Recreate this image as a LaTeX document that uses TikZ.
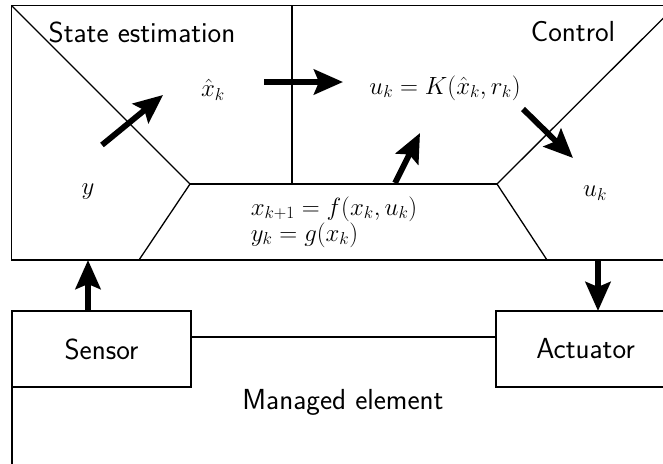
\documentclass[tikz,border=0pt]{standalone}
\usetikzlibrary{arrows.meta}
\DeclareMathSizes{23.5}{23.5}{19}{15}
\begin{document}
\begin{tikzpicture}[x=1pt,y=-1pt,
  frame/.style={line width=1.3pt},
  txt/.style={font=\fontsize{29}{34}\selectfont\sffamily, inner sep=0pt},
  mth/.style={font=\fontsize{23.5}{26}\selectfont, inner sep=0pt},
  bigarrow/.style={line width=5.8pt, -{Stealth[length=29pt,width=25pt,inset=5pt]}},
  boxnode/.style={draw, frame, fill=white, minimum width=179pt, minimum height=76pt, inner sep=0pt, font=\fontsize{29}{34}\selectfont\sffamily}]
\useasboundingbox (0,0) rectangle (663,463);
\clip (0,0) rectangle (663,463);
% coordinates of the top block
\coordinate (TL) at (11.5,5.5);
\coordinate (TR) at (676,5.5);
\coordinate (BL) at (11.5,260);
\coordinate (BR) at (676,260);
\coordinate (P1) at (190,184);
\coordinate (P2) at (497,184);
\coordinate (Q1) at (139,260);
\coordinate (Q2) at (547,260);
\coordinate (D1) at (292,5.5);
\coordinate (D2) at (292,184);
\draw[frame] (TL) rectangle (BR);
\draw[frame] (TL) -- (P1) -- (Q1);
\draw[frame] (P1) -- (P2);
\draw[frame] (TR) -- (P2) -- (Q2);
\draw[frame] (D1) -- (D2);
% managed element
\draw[frame] (12,337) rectangle (675,520);
\node[boxnode] (sensor) at (101.5,349) {Sensor};
\node[boxnode] (actuator) at (585.5,349) {Actuator};
\node[txt] (managed) at (343,402) {Managed element};
% labels
\node[txt] (se) at (142,32) {State estimation};
\node[txt] (ctrl) at (573,32) {Control};
\node[mth] (xhat) at (213,90) {$\hat{x}_k$};
\node[mth] (law) at (445,88) {$u_k = K(\hat{x}_k, r_k)$};
\node[mth] (ylab) at (88,192) {$y$};
\node[mth] (ulab) at (595,193) {$u_k$};
\node[mth, align=left] (model) at (334,222) {$x_{k+1} = f(x_k, u_k)$\\$y_k = g(x_k)$};
% arrows
\coordinate (a1s) at (102,145);
\coordinate (a1e) at (163,95);
\coordinate (a2s) at (264,82);
\coordinate (a2e) at (343,82);
\coordinate (a3s) at (395,183);
\coordinate (a3e) at (420,133);
\coordinate (a4s) at (523,109);
\coordinate (a4e) at (573,158);
\draw[bigarrow] (a1s) -- (a1e);
\draw[bigarrow] (a2s) -- (a2e);
\draw[bigarrow] (a3s) -- (a3e);
\draw[bigarrow] (a4s) -- (a4e);
\coordinate (sup) at (88,260);
\coordinate (sdn) at (88,311);
\coordinate (aup) at (598,260);
\coordinate (adn) at (598,311);
\draw[bigarrow] (sdn) -- (sup);
\draw[bigarrow] (aup) -- (adn);
\end{tikzpicture}
\end{document}
